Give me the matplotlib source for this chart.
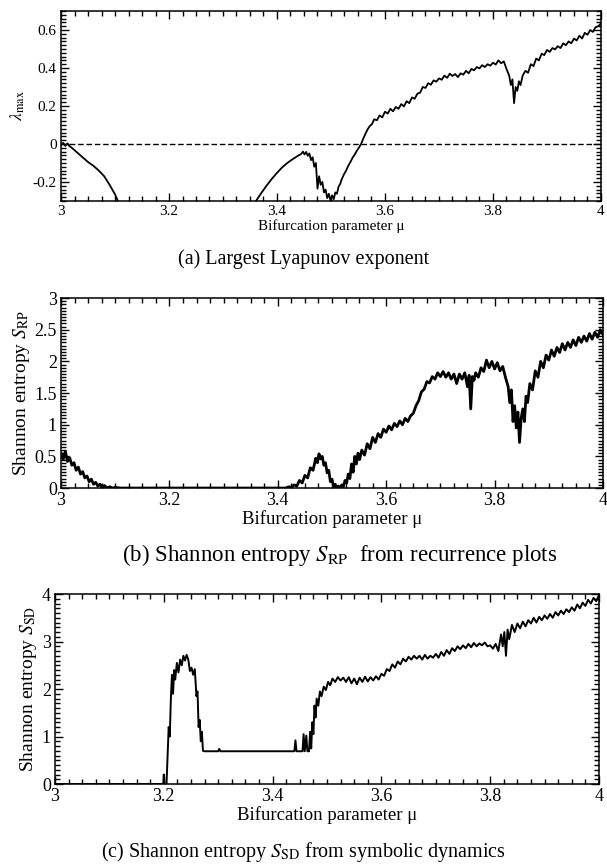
import matplotlib
matplotlib.use("Agg")
import matplotlib.pyplot as plt
from matplotlib.ticker import MultipleLocator, FuncFormatter

plt.rcParams['font.family'] = ['Liberation Serif', 'DejaVu Serif']
plt.rcParams['mathtext.fontset'] = 'stix'
plt.rcParams['axes.unicode_minus'] = False

# (a) largest Lyapunov exponent
mu_a1 = [3.000, 3.004, 3.008, 3.012, 3.016, 3.020, 3.030, 3.040, 3.050, 3.060,
         3.070, 3.080, 3.090, 3.100, 3.107]
lam_a1 = [-0.005, 0.006, -0.010, 0.003, -0.012, -0.020, -0.045, -0.070, -0.095,
          -0.115, -0.140, -0.170, -0.215, -0.265, -0.310]

mu_a2 = [3.360, 3.370, 3.380, 3.390, 3.400, 3.410, 3.420, 3.430, 3.440, 3.445,
         3.448, 3.451, 3.454, 3.457, 3.460, 3.463, 3.466, 3.469, 3.472, 3.475,
         3.478, 3.481, 3.484, 3.487, 3.490, 3.493, 3.496, 3.499, 3.502, 3.505,
         3.508, 3.511, 3.514, 3.517, 3.520, 3.524, 3.528, 3.532, 3.536, 3.540,
         3.544, 3.548, 3.552, 3.556, 3.560, 3.564, 3.568, 3.572, 3.576, 3.580,
         3.585, 3.590, 3.595, 3.600, 3.605, 3.610, 3.615, 3.620, 3.625, 3.630,
         3.635, 3.640, 3.645, 3.650, 3.655, 3.660, 3.665, 3.670, 3.675, 3.680,
         3.685, 3.690, 3.695, 3.700, 3.705, 3.710, 3.715, 3.720, 3.725, 3.730,
         3.735, 3.740, 3.745, 3.750, 3.755, 3.760, 3.765, 3.770, 3.775, 3.780,
         3.785, 3.790, 3.795, 3.800, 3.805, 3.810, 3.815, 3.820, 3.825, 3.830,
         3.833, 3.836, 3.839, 3.842, 3.845, 3.848, 3.851, 3.855, 3.860, 3.865,
         3.870, 3.875, 3.880, 3.885, 3.890, 3.895, 3.900, 3.905, 3.910, 3.915,
         3.920, 3.925, 3.930, 3.935, 3.940, 3.945, 3.950, 3.955, 3.960, 3.965,
         3.970, 3.975, 3.980, 3.985, 3.990, 3.995, 4.000]
lam_a2 = [-0.305, -0.262, -0.222, -0.185, -0.152, -0.122, -0.098, -0.078, -0.060, -0.052,
          -0.040, -0.055, -0.042, -0.062, -0.050, -0.085, -0.070, -0.120, -0.100, -0.235,
          -0.170, -0.215, -0.200, -0.255, -0.240, -0.285, -0.262, -0.298, -0.270, -0.292,
          -0.255, -0.262, -0.225, -0.210, -0.185, -0.160, -0.140, -0.115, -0.095, -0.072,
          -0.055, -0.035, -0.018, 0.002, 0.030, 0.055, 0.078, 0.095, 0.105, 0.130,
          0.125, 0.150, 0.140, 0.170, 0.160, 0.185, 0.172, 0.195, 0.185, 0.210,
          0.198, 0.225, 0.215, 0.245, 0.238, 0.265, 0.270, 0.300, 0.295, 0.320,
          0.312, 0.335, 0.328, 0.345, 0.338, 0.360, 0.348, 0.370, 0.358, 0.368,
          0.352, 0.372, 0.365, 0.385, 0.372, 0.395, 0.388, 0.405, 0.398, 0.415,
          0.405, 0.420, 0.412, 0.428, 0.418, 0.440, 0.425, 0.435, 0.395, 0.360,
          0.310, 0.340, 0.215, 0.300, 0.280, 0.330, 0.310, 0.360, 0.385, 0.375,
          0.420, 0.410, 0.450, 0.440, 0.475, 0.468, 0.495, 0.485, 0.505, 0.498,
          0.515, 0.505, 0.530, 0.520, 0.540, 0.530, 0.555, 0.545, 0.570, 0.555,
          0.585, 0.575, 0.600, 0.590, 0.615, 0.620, 0.635]

# (b) Shannon entropy from recurrence plots
mu_b = [3.000, 3.004, 3.008, 3.012, 3.016, 3.020, 3.024, 3.028, 3.032, 3.036,
        3.040, 3.044, 3.048, 3.052, 3.056, 3.060, 3.064, 3.068, 3.072, 3.076,
        3.080, 3.085, 3.090, 3.095, 3.100, 3.110, 3.415, 3.420, 3.425, 3.430,
        3.435, 3.440, 3.445, 3.450, 3.455, 3.460, 3.465, 3.470, 3.473, 3.476,
        3.479, 3.482, 3.485, 3.488, 3.491, 3.494, 3.497, 3.500, 3.503, 3.506,
        3.509, 3.512, 3.515, 3.518, 3.521, 3.524, 3.527, 3.530, 3.533, 3.536,
        3.539, 3.542, 3.545, 3.548, 3.551, 3.555, 3.560, 3.565, 3.570, 3.575,
        3.580, 3.585, 3.590, 3.595, 3.600, 3.605, 3.610, 3.615, 3.620, 3.625,
        3.630, 3.635, 3.640, 3.645, 3.650, 3.655, 3.660, 3.665, 3.670, 3.675,
        3.680, 3.685, 3.690, 3.695, 3.700, 3.705, 3.710, 3.715, 3.720, 3.725,
        3.730, 3.735, 3.740, 3.745, 3.750, 3.753, 3.756, 3.759, 3.762, 3.765,
        3.770, 3.775, 3.780, 3.785, 3.790, 3.795, 3.800, 3.805, 3.810, 3.815,
        3.820, 3.825, 3.828, 3.831, 3.834, 3.837, 3.840, 3.843, 3.846, 3.849,
        3.852, 3.855, 3.858, 3.861, 3.865, 3.870, 3.875, 3.880, 3.885, 3.890,
        3.895, 3.900, 3.905, 3.910, 3.915, 3.920, 3.925, 3.930, 3.935, 3.940,
        3.945, 3.950, 3.955, 3.960, 3.965, 3.970, 3.975, 3.980, 3.985, 3.990,
        3.995, 4.000]
s_rp = [0.55, 0.45, 0.58, 0.42, 0.48, 0.36, 0.40, 0.28, 0.33, 0.22,
        0.26, 0.16, 0.19, 0.10, 0.14, 0.06, 0.09, 0.03, 0.06, 0.01,
        0.04, 0.00, 0.02, 0.00, 0.01, 0.00, 0.00, 0.02, 0.01, 0.05,
        0.03, 0.12, 0.08, 0.20, 0.16, 0.32, 0.28, 0.47, 0.40, 0.54,
        0.46, 0.50, 0.36, 0.40, 0.24, 0.28, 0.10, 0.14, 0.02, 0.06,
        0.00, 0.03, 0.00, 0.05, 0.02, 0.12, 0.08, 0.22, 0.15, 0.38,
        0.25, 0.50, 0.38, 0.55, 0.45, 0.60, 0.52, 0.70, 0.62, 0.80,
        0.72, 0.86, 0.80, 0.93, 0.88, 0.98, 0.92, 1.02, 0.97, 1.06,
        1.00, 1.10, 1.05, 1.14, 1.18, 1.30, 1.38, 1.52, 1.56, 1.68,
        1.66, 1.76, 1.72, 1.82, 1.76, 1.84, 1.75, 1.82, 1.72, 1.80,
        1.65, 1.80, 1.72, 1.82, 1.60, 1.78, 1.25, 1.76, 1.70, 1.82,
        1.75, 1.90, 1.84, 2.02, 1.90, 2.00, 1.88, 1.98, 1.85, 1.92,
        1.75, 1.60, 1.35, 1.55, 1.05, 1.30, 0.95, 1.20, 0.72, 1.10,
        1.25, 1.05, 1.45, 1.35, 1.65, 1.55, 1.85, 1.75, 2.00, 1.90,
        2.10, 2.02, 2.18, 2.08, 2.22, 2.14, 2.28, 2.18, 2.30, 2.22,
        2.34, 2.25, 2.38, 2.30, 2.40, 2.32, 2.44, 2.35, 2.46, 2.38,
        2.50, 2.42]

# (c) Shannon entropy from symbolic dynamics
mu_c = [3.000, 3.199, 3.200, 3.201, 3.205, 3.207, 3.209, 3.211, 3.213, 3.215,
        3.217, 3.219, 3.221, 3.224, 3.227, 3.230, 3.233, 3.236, 3.239, 3.242,
        3.245, 3.248, 3.251, 3.254, 3.257, 3.260, 3.262, 3.264, 3.266, 3.268,
        3.270, 3.272, 3.275, 3.300, 3.302, 3.304, 3.440, 3.442, 3.444, 3.455,
        3.457, 3.459, 3.462, 3.464, 3.467, 3.469, 3.471, 3.473, 3.475, 3.477,
        3.479, 3.481, 3.484, 3.487, 3.490, 3.494, 3.498, 3.502, 3.506, 3.510,
        3.515, 3.520, 3.525, 3.530, 3.535, 3.540, 3.545, 3.550, 3.555, 3.560,
        3.565, 3.570, 3.575, 3.580, 3.585, 3.590, 3.595, 3.600, 3.605, 3.610,
        3.615, 3.620, 3.625, 3.630, 3.635, 3.640, 3.645, 3.650, 3.655, 3.660,
        3.665, 3.670, 3.675, 3.680, 3.685, 3.690, 3.695, 3.700, 3.705, 3.710,
        3.715, 3.720, 3.725, 3.730, 3.735, 3.740, 3.745, 3.750, 3.755, 3.760,
        3.765, 3.770, 3.775, 3.780, 3.785, 3.790, 3.795, 3.800, 3.805, 3.810,
        3.815, 3.820, 3.823, 3.826, 3.829, 3.832, 3.835, 3.840, 3.845, 3.850,
        3.855, 3.860, 3.865, 3.870, 3.875, 3.880, 3.885, 3.890, 3.895, 3.900,
        3.905, 3.910, 3.915, 3.920, 3.925, 3.930, 3.935, 3.940, 3.945, 3.950,
        3.955, 3.960, 3.965, 3.970, 3.975, 3.980, 3.985, 3.990, 3.995, 4.000]
s_sd = [0.00, 0.00, 0.20, 0.00, 0.00, 0.60, 1.20, 1.00, 1.80, 2.30,
        1.90, 2.40, 2.20, 2.55, 2.35, 2.62, 2.50, 2.70, 2.60, 2.72,
        2.62, 2.38, 2.45, 2.30, 2.42, 1.85, 1.95, 1.20, 1.35, 0.90,
        1.10, 0.70, 0.69, 0.69, 0.74, 0.69, 0.69, 0.92, 0.69, 0.69,
        1.05, 0.69, 1.02, 0.69, 0.69, 1.10, 0.75, 1.30, 1.05, 1.65,
        1.40, 1.80, 1.65, 1.95, 1.85, 2.05, 1.98, 2.15, 2.08, 2.22,
        2.15, 2.25, 2.18, 2.24, 2.15, 2.25, 2.12, 2.22, 2.10, 2.24,
        2.15, 2.26, 2.16, 2.25, 2.18, 2.27, 2.20, 2.32, 2.28, 2.42,
        2.38, 2.52, 2.45, 2.58, 2.52, 2.64, 2.58, 2.68, 2.62, 2.70,
        2.64, 2.70, 2.62, 2.72, 2.64, 2.70, 2.66, 2.74, 2.66, 2.78,
        2.70, 2.82, 2.74, 2.86, 2.80, 2.90, 2.84, 2.92, 2.86, 2.95,
        2.88, 2.97, 2.90, 2.96, 2.92, 2.98, 2.90, 2.92, 2.85, 2.95,
        2.80, 3.15, 2.90, 3.20, 2.70, 3.25, 3.05, 3.35, 3.20, 3.38,
        3.28, 3.42, 3.32, 3.45, 3.38, 3.50, 3.40, 3.52, 3.45, 3.55,
        3.48, 3.58, 3.50, 3.62, 3.55, 3.65, 3.58, 3.68, 3.62, 3.72,
        3.65, 3.78, 3.70, 3.82, 3.75, 3.88, 3.80, 3.92, 3.85, 3.98]

fmt = FuncFormatter(lambda v, p: '%g' % v)


def style(ax, ymaj, ymin, tsize):
    ax.set_xlim(3, 4)
    ax.xaxis.set_major_locator(MultipleLocator(0.2))
    ax.xaxis.set_minor_locator(MultipleLocator(0.025))
    ax.yaxis.set_major_locator(MultipleLocator(ymaj))
    ax.yaxis.set_minor_locator(MultipleLocator(ymin))
    ax.xaxis.set_major_formatter(fmt)
    ax.yaxis.set_major_formatter(fmt)
    ax.tick_params(which='both', direction='in', top=True, right=True,
                   labelsize=tsize, pad=3, width=1)
    ax.tick_params(which='major', length=6)
    ax.tick_params(which='minor', length=3.5)
    for s in ax.spines.values():
        s.set_linewidth(1.1)


fig = plt.figure(figsize=(6.07, 8.67), dpi=100)

ax1 = fig.add_axes([0.1005, 0.7682, 0.8896, 0.2191])
ax1.plot(mu_a1, lam_a1, color='black', lw=1.3)
ax1.plot(mu_a2, lam_a2, color='black', lw=1.3)
ax1.axhline(0, color='black', lw=1, ls=(0, (4, 2)))
ax1.set_ylim(-0.3, 0.7)
style(ax1, 0.2, 0.02, 11)
ax1.set_xlabel('Bifurcation parameter μ', fontsize=11, labelpad=1)
ax1.set_ylabel(r'$\lambda_{\mathrm{max}}$', fontsize=12.5, labelpad=4)

ax2 = fig.add_axes([0.1005, 0.4371, 0.8929, 0.2191])
ax2.plot(mu_b, s_rp, color='black', lw=2.0)
ax2.set_ylim(0, 3)
style(ax2, 0.5, 0.05, 13)
ax2.set_xlabel('Bifurcation parameter μ', fontsize=13.5, labelpad=1)
ax2.set_ylabel(r'Shannon entropy $S_{\mathrm{RP}}$', fontsize=14, labelpad=2)

ax3 = fig.add_axes([0.0906, 0.0957, 0.8962, 0.2191])
ax3.plot(mu_c, s_sd, color='black', lw=1.4)
ax3.set_ylim(0, 4)
style(ax3, 1, 0.1, 13)
ax3.set_xlabel('Bifurcation parameter μ', fontsize=13.5, labelpad=1)
ax3.set_ylabel(r'Shannon entropy $S_{\mathrm{SD}}$', fontsize=14, labelpad=2)

fig.text(0.5, 1 - 259 / 867, '(a) Largest Lyapunov exponent',
         ha='center', va='center', fontsize=14.5)
fig.text(340 / 607, 1 - 555 / 867, r'(b) Shannon entropy $S_{\mathrm{RP}}$  from recurrence plots',
         ha='center', va='center', fontsize=16.5)
fig.text(0.5, 1 - 852 / 867, r'(c) Shannon entropy $S_{\mathrm{SD}}$ from symbolic dynamics',
         ha='center', va='center', fontsize=14.5)

fig.savefig('out.png', dpi=100)
